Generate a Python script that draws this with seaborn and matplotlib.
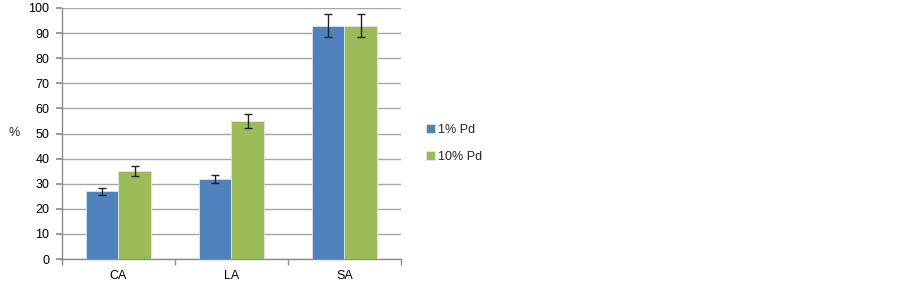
import matplotlib
matplotlib.use("Agg")
import matplotlib.pyplot as plt
import seaborn as sns
import pandas as pd
import numpy as np

categories = ["CA", "LA", "SA"]
series_names = ["1% Pd", "10% Pd"]
values_1pd = [27, 32, 93]
values_10pd = [35, 55, 93]
err_1pd = [1.4, 1.6, 4.6]
err_10pd = [1.9, 2.8, 4.6]
y_ticks = [0, 10, 20, 30, 40, 50, 60, 70, 80, 90, 100]

sns.set_theme(style="white")
plt.rcParams["font.family"] = ["Liberation Sans", "DejaVu Sans"]

df = pd.DataFrame({
    "cat": categories * 2,
    "series": [series_names[0]] * 3 + [series_names[1]] * 3,
    "val": values_1pd + values_10pd,
    "err": err_1pd + err_10pd,
})

fig = plt.figure(figsize=(9.03, 2.84), dpi=100)
ax = fig.add_axes([62 / 903, 25 / 284, 339 / 903, 251 / 284])

palette = {"1% Pd": "#4F81BD", "10% Pd": "#9BBB59"}
sns.barplot(data=df, x="cat", y="val", hue="series", palette=palette,
            errorbar=None, width=0.57, ax=ax, edgecolor="#dfe6ee",
            linewidth=0.6, saturation=1, zorder=3)

# error bars at bar centers
for container, sname in zip(ax.containers, series_names):
    sub = df[df["series"] == sname]
    for bar, (_, row) in zip(container, sub.iterrows()):
        xc = bar.get_x() + bar.get_width() / 2
        ax.errorbar(xc, row["val"], yerr=row["err"], fmt="none",
                    ecolor="#222222", elinewidth=1.0, capsize=3,
                    capthick=1.0, zorder=4)

ax.set_ylim(0, 100)
ax.set_xlim(-0.5, 2.5)
ax.set_yticks(y_ticks)
ax.yaxis.grid(True, color="#a6a6a6", linewidth=1.0, zorder=0)
ax.set_axisbelow(True)
for s in ["top", "right"]:
    ax.spines[s].set_visible(False)
for s in ["left", "bottom"]:
    ax.spines[s].set_color("#8c8c8c")
    ax.spines[s].set_linewidth(1.0)

ax.tick_params(axis="y", which="both", left=True, length=4, color="#8c8c8c",
               labelsize=9, pad=5, labelcolor="black")
ax.set_xticks([0, 1, 2])
ax.set_xticklabels(categories)
ax.tick_params(axis="x", which="major", bottom=False, length=0, labelsize=9,
               pad=8, labelcolor="black")
ax.set_xticks([-0.5, 0.5, 1.5, 2.5], minor=True)
ax.tick_params(axis="x", which="minor", bottom=True, length=4,
               color="#8c8c8c")

ax.set_xlabel("")
ax.set_ylabel("%", rotation=0, fontsize=9, labelpad=16, va="center")
ax.yaxis.set_label_coords(-0.14, 0.50)

leg = ax.legend(loc="center left", bbox_to_anchor=(1.04, 0.462), frameon=False,
                fontsize=9, handlelength=0.7, handleheight=0.7,
                labelspacing=1.2, handletextpad=0.25)

fig.savefig("out.png", dpi=100, facecolor="white")
